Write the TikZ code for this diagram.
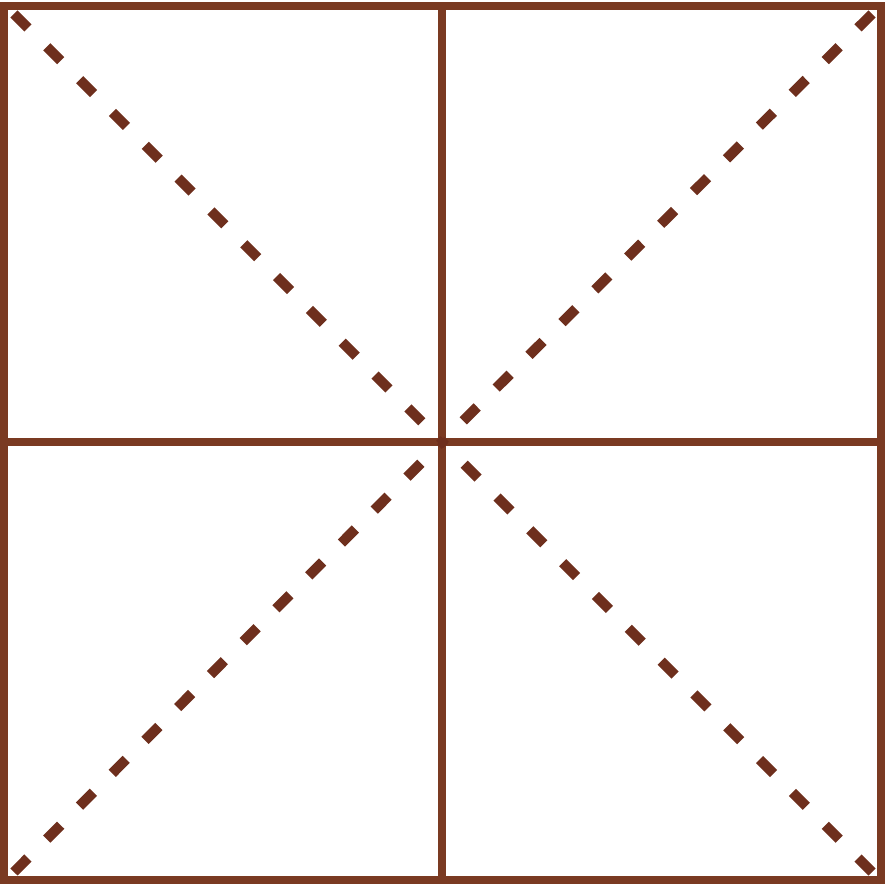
\documentclass[tikz,border=0pt]{standalone}
\usepackage{tikz}
\usetikzlibrary{arrows.meta}
\definecolor{frame}{HTML}{7A3A22}
\definecolor{dashbrown}{HTML}{6E2F1D}

\begin{document}
\begin{tikzpicture}[x=0.01cm, y=-0.01cm,
        border/.style={draw=frame, line width=2.3pt},
        diag/.style={draw=dashbrown, line width=2.9pt, dash pattern=on 5.6pt off 7.6pt}]
        \useasboundingbox (0,0) rectangle (886,886);
        \coordinate (tl) at (14,14);
        \coordinate (tr) at (872,14);
        \coordinate (bl) at (14,872);
        \coordinate (br) at (872,872);
        \coordinate (c) at (442,442);
        % frame and cross
        \draw[border] (4,6) rectangle (881,880);
        \draw[border] (442,6) -- (442,880);
        \draw[border] (4,442) -- (881,442);
        % dashed diagonals
        \draw[diag] (tl) -- (c);
        \draw[diag] (tr) -- (c);
        \draw[diag] (bl) -- (c);
        \draw[diag] (br) -- (c);
    \end{tikzpicture}
\end{document}
